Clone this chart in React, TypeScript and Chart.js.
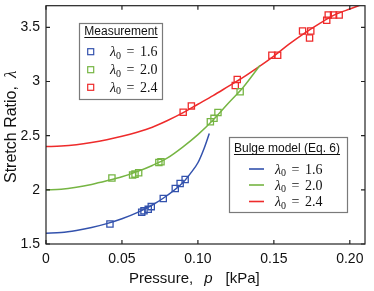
import React, { useEffect, useRef } from "react";
import { Chart, registerables } from "chart.js";

Chart.register(...registerables);

// ---- Axis ticks ----
const xTicks = [0, 0.05, 0.1, 0.15, 0.2];
const xTickLabels = ["0", "0.05", "0.10", "0.15", "0.20"];
const yTicks = [1.5, 2, 2.5, 3, 3.5];
const yTickLabels = ["1.5", "2", "2.5", "3", "3.5"];

// ---- Measurements (pressure kPa, stretch ratio) ----
const blueMeasP = [0.0421, 0.063, 0.0645, 0.0673, 0.0693, 0.0772, 0.0851, 0.0883, 0.0916];
const blueMeasL = [1.685, 1.794, 1.806, 1.82, 1.845, 1.92, 2.012, 2.058, 2.095];

const greenMeasP = [0.0434, 0.057, 0.0586, 0.061, 0.0743, 0.0757, 0.1082, 0.1106, 0.1132, 0.1278];
const greenMeasL = [2.11, 2.136, 2.145, 2.157, 2.253, 2.259, 2.628, 2.66, 2.714, 2.905];

const redMeasP = [0.0903, 0.0957, 0.1246, 0.1259, 0.1487, 0.1525, 0.1689, 0.1743, 0.1735, 0.1848, 0.1858, 0.1893, 0.193];
const redMeasL = [2.716, 2.775, 2.963, 3.019, 3.243, 3.243, 3.466, 3.466, 3.402, 3.566, 3.614, 3.614, 3.614];

// ---- Bulge model curves ----
const blueCurveP = [0, 0.01, 0.02, 0.03, 0.04, 0.05, 0.06, 0.07, 0.08, 0.09, 0.095, 0.1, 0.104, 0.1075];
const blueCurveL = [1.6, 1.606, 1.625, 1.652, 1.688, 1.733, 1.79, 1.86, 1.95, 2.065, 2.15, 2.25, 2.38, 2.52];

const greenCurveP = [0, 0.01, 0.02, 0.03, 0.04, 0.05, 0.06, 0.07, 0.08, 0.09, 0.1, 0.11, 0.12, 0.13, 0.1408];
const greenCurveL = [2.0, 2.006, 2.024, 2.05, 2.083, 2.12, 2.168, 2.225, 2.295, 2.395, 2.51, 2.645, 2.8, 2.95, 3.148];

const redCurveP = [0, 0.01, 0.02, 0.03, 0.04, 0.05, 0.06, 0.07, 0.08, 0.09, 0.1, 0.11, 0.12, 0.13, 0.14, 0.15, 0.16, 0.17, 0.18, 0.19, 0.2, 0.208];
const redCurveL = [2.4, 2.404, 2.416, 2.436, 2.462, 2.494, 2.532, 2.578, 2.64, 2.71, 2.79, 2.87, 2.955, 3.04, 3.135, 3.235, 3.345, 3.445, 3.535, 3.615, 3.67, 3.71];

const seriesLabels = ["1.6", "2.0", "2.4"];
const xTitleParts = ["Pressure,", "p", "[kPa]"];
const yTitleParts = ["Stretch Ratio,", "λ"];
const legendTitles = ["Measurement", "Bulge model (Eq. 6)"];

const BLUE = "#3352ad";
const GREEN = "#76b543";
const RED = "#ee2b2b";
const colors = [BLUE, GREEN, RED];

const pts = (xs: number[], ys: number[]) => xs.map((x, i) => ({ x, y: ys[i] }));

const SANS = "'Liberation Sans', Arial, sans-serif";
const SERIF = "'Liberation Serif', 'Times New Roman', serif";
const INK = "#111";

function drawLambda(ctx: CanvasRenderingContext2D, x: number, cy: number, val: string) {
  const base = cy + 4.5;
  ctx.fillStyle = INK;
  ctx.textBaseline = "alphabetic";
  ctx.textAlign = "left";
  ctx.font = `italic 14px ${SERIF}`;
  ctx.fillText("λ", x, base);
  let w = ctx.measureText("λ").width;
  ctx.font = `10px ${SERIF}`;
  ctx.fillText("0", x + w, base + 2.5);
  w += ctx.measureText("0").width + 5.5;
  ctx.font = `14px ${SERIF}`;
  ctx.fillText("=", x + w, base);
  w += ctx.measureText("=").width + 5.5;
  ctx.fillText(val, x + w, base);
}

function drawTitle(ctx: CanvasRenderingContext2D, text: string, cx: number, cy: number) {
  ctx.font = `12px ${SANS}`;
  ctx.fillStyle = INK;
  ctx.textAlign = "center";
  ctx.textBaseline = "middle";
  ctx.fillText(text, cx, cy);
  const w = ctx.measureText(text).width;
  ctx.strokeStyle = INK;
  ctx.lineWidth = 1;
  ctx.beginPath();
  ctx.moveTo(cx - w / 2, Math.round(cy + 5) + 0.5);
  ctx.lineTo(cx + w / 2, Math.round(cy + 5) + 0.5);
  ctx.stroke();
}

const framePlugin = {
  id: "frameAndLegends",
  afterDatasetsDraw(chart: any) {
    const { ctx, chartArea: a, scales } = chart;
    const xs = scales.x;
    const ys = scales.y;
    ctx.save();
    ctx.strokeStyle = "#222";
    ctx.lineWidth = 1.2;
    ctx.strokeRect(a.left, a.top, a.right - a.left, a.bottom - a.top);
    const tl = 4;
    ctx.beginPath();
    xTicks.forEach((v) => {
      const px = xs.getPixelForValue(v);
      ctx.moveTo(px, a.bottom);
      ctx.lineTo(px, a.bottom - tl);
      ctx.moveTo(px, a.top);
      ctx.lineTo(px, a.top + tl);
    });
    yTicks.forEach((v) => {
      const py = ys.getPixelForValue(v);
      ctx.moveTo(a.left, py);
      ctx.lineTo(a.left + tl, py);
      ctx.moveTo(a.right, py);
      ctx.lineTo(a.right - tl, py);
    });
    ctx.stroke();
    ctx.restore();
  },
  afterDraw(chart: any) {
    const { ctx, chartArea: a } = chart;
    ctx.save();
    // Axis titles
    ctx.fillStyle = INK;
    ctx.textAlign = "left";
    ctx.textBaseline = "alphabetic";
    // x title
    let x = a.left + 83;
    const xb = 282.5;
    ctx.font = `15px ${SANS}`;
    ctx.fillText(xTitleParts[0], x, xb);
    x += ctx.measureText(xTitleParts[0]).width + 11;
    ctx.font = `italic 15px ${SANS}`;
    ctx.fillText(xTitleParts[1], x, xb);
    x += ctx.measureText(xTitleParts[1]).width + 13;
    ctx.font = `15px ${SANS}`;
    ctx.fillText(xTitleParts[2], x, xb);
    // y title (rotated)
    ctx.font = `16px ${SANS}`;
    const w1 = ctx.measureText(yTitleParts[0]).width;
    ctx.font = `italic 17px ${SERIF}`;
    const w2 = ctx.measureText(yTitleParts[1]).width;
    const gap = 8;
    const total = w1 + gap + w2;
    const cy = (a.top + a.bottom) / 2 + 2;
    ctx.save();
    ctx.translate(15.5, cy + total / 2);
    ctx.rotate(-Math.PI / 2);
    ctx.font = `16px ${SANS}`;
    ctx.fillText(yTitleParts[0], 0, 0);
    ctx.font = `italic 17px ${SERIF}`;
    ctx.fillText(yTitleParts[1], w1 + gap, 0);
    ctx.restore();

    // Measurement legend
    ctx.fillStyle = "#fff";
    ctx.fillRect(79, 23, 83, 76);
    ctx.strokeStyle = "#7a7a7a";
    ctx.lineWidth = 1.2;
    ctx.strokeRect(79.5, 23.5, 83, 76);
    drawTitle(ctx, legendTitles[0], 121, 32);
    const mY = [51.7, 69.7, 87.3];
    seriesLabels.forEach((lab, i) => {
      ctx.strokeStyle = colors[i];
      ctx.lineWidth = 1.2;
      ctx.strokeRect(87.7, mY[i] - 3, 6, 6);
      drawLambda(ctx, 110, mY[i], lab);
    });
    // Bulge model legend
    ctx.fillStyle = "#fff";
    ctx.fillRect(229, 137, 118, 75);
    ctx.strokeStyle = "#7a7a7a";
    ctx.lineWidth = 1.2;
    ctx.strokeRect(229.5, 137.5, 118, 75);
    drawTitle(ctx, legendTitles[1], 287, 149);
    const bY = [169, 185, 201.5];
    seriesLabels.forEach((lab, i) => {
      ctx.strokeStyle = colors[i];
      ctx.lineWidth = 1.6;
      ctx.beginPath();
      ctx.moveTo(249, bY[i]);
      ctx.lineTo(264, bY[i]);
      ctx.stroke();
      drawLambda(ctx, 275, bY[i], lab);
    });
    ctx.restore();
  },
};

export default function App() {
  const ref = useRef<HTMLCanvasElement | null>(null);
  useEffect(() => {
    if (!ref.current) return;
    const curve = (xs: number[], ys: number[], c: string) => ({
      data: pts(xs, ys),
      showLine: true,
      borderColor: c,
      borderWidth: 1.5,
      pointRadius: 0,
      fill: false,
      cubicInterpolationMode: "monotone" as const,
    });
    const meas = (xs: number[], ys: number[], c: string) => ({
      data: pts(xs, ys),
      showLine: false,
      borderColor: c,
      backgroundColor: "rgba(0,0,0,0)",
      borderWidth: 1.3,
      pointStyle: "rect" as const,
      pointRadius: 4.4,
    });
    const chart = new Chart(ref.current, {
      type: "scatter",
      data: {
        datasets: [
          curve(blueCurveP, blueCurveL, BLUE),
          curve(greenCurveP, greenCurveL, GREEN),
          curve(redCurveP, redCurveL, RED),
          meas(blueMeasP, blueMeasL, BLUE),
          meas(greenMeasP, greenMeasL, GREEN),
          meas(redMeasP, redMeasL, RED),
        ] as any,
      },
      options: {
        animation: false,
        responsive: false,
        devicePixelRatio: 1,
        layout: { padding: { top: 5, right: 9, left: 0, bottom: 0 } },
        plugins: { legend: { display: false }, tooltip: { enabled: false } },
        scales: {
          x: {
            type: "linear",
            min: 0,
            max: 0.21,
            grid: { display: false, drawTicks: false },
            border: { display: false },
            afterBuildTicks: (s: any) => {
              s.ticks = xTicks.map((v) => ({ value: v }));
            },
            afterFit: (s: any) => {
              s.height = 47;
              s.paddingLeft = 0;
              s.paddingRight = 0;
            },
            ticks: {
              font: { family: SANS, size: 14 },
              color: INK,
              padding: 7,
              maxRotation: 0,
              callback: (_v: any, i: number) => xTickLabels[i],
            },
            title: { display: false },
          },
          y: {
            type: "linear",
            min: 1.5,
            max: 3.7,
            grid: { display: false, drawTicks: false },
            border: { display: false },
            afterBuildTicks: (s: any) => {
              s.ticks = yTicks.map((v) => ({ value: v }));
            },
            afterFit: (s: any) => {
              s.width = 46;
              s.paddingTop = 0;
              s.paddingBottom = 0;
            },
            ticks: {
              font: { family: SANS, size: 14 },
              color: INK,
              padding: 6,
              callback: (_v: any, i: number) => yTickLabels[i],
            },
            title: { display: false },
          },
        },
      } as any,
      plugins: [framePlugin],
    });
    return () => chart.destroy();
  }, []);
  return (
    <div style={{ position: "absolute", left: 0, top: 0, width: 374, height: 291, background: "#fff" }}>
      <canvas ref={ref} width={374} height={291} style={{ display: "block" }} />
    </div>
  );
}
